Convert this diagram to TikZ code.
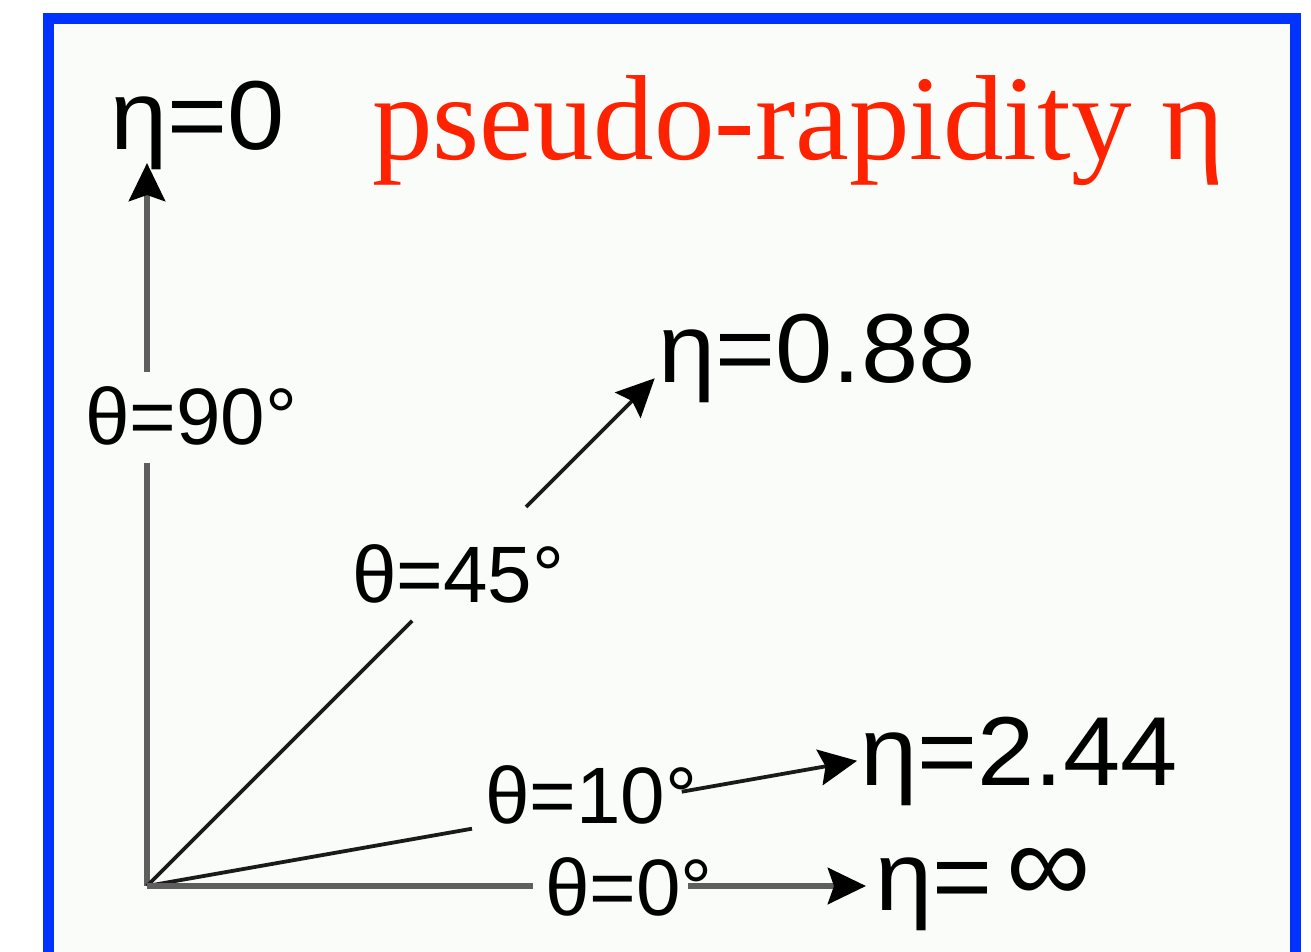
\documentclass[tikz,border=0pt]{standalone}
\usepackage{fontspec}
\setmainfont{Liberation Serif}
\newfontfamily\labfont{Liberation Sans}
\newfontfamily\etafont[FakeStretch=1.05]{Liberation Sans}
\usetikzlibrary{arrows.meta,calc}
\definecolor{bordblue}{HTML}{0033FF}
\definecolor{titred}{HTML}{FF2200}
\definecolor{bgpaper}{HTML}{FAFCFA}
\definecolor{axgray}{HTML}{5E5E5E}
\definecolor{raydark}{HTML}{1A1A1A}
\tikzset{
  thetalab/.style={anchor=base west,inner sep=0pt,font=\labfont\fontsize{80}{82}\selectfont,text=black},
  etalab/.style={anchor=base west,inner sep=0pt,font=\etafont\fontsize{98}{100}\selectfont,text=black},
  graysegment/.style={draw=axgray,line width=6.5pt},
  darksegment/.style={draw=raydark,line width=3.8pt},
  tiphead/.style={-{Stealth[length=38pt,width=36pt,inset=6pt,color=black]}},
}
\begin{document}
\begin{tikzpicture}[x=1pt,y=1pt]
\useasboundingbox (0,0) rectangle (1311,951);
\clip (0,0) rectangle (1311,951);
\fill[white] (0,0) rectangle (1311,951);
\fill[bgpaper] (48,-20) rectangle (1295.5,932.5);
\draw[bordblue,line width=11pt] (48,-20) -- (48,932.5) -- (1295.5,932.5) -- (1295.5,-20);

% title
\node[anchor=base west,inner sep=0pt,text=titred,font=\fontsize{121}{123}\selectfont] (title) at (372,791) {pseudo-rapidity η};

% origin and ray points
\coordinate (O) at (147,65);
\coordinate (v1) at ($(O)+(90:423)$);
\coordinate (v2) at ($(O)+(90:514)$);
\coordinate (v3) at ($(O)+(90:723)$);
\coordinate (d1) at ($(O)+(45:375)$);
\coordinate (d2) at ($(O)+(45:536)$);
\coordinate (d3) at ($(O)+(45:718)$);
\coordinate (t1) at ($(O)+(10:330)$);
\coordinate (t2) at ($(O)+(10:543)$);
\coordinate (t3) at ($(O)+(10:721)$);
\coordinate (z1) at ($(O)+(0:386)$);
\coordinate (z2) at ($(O)+(0:541)$);
\coordinate (z3) at ($(O)+(0:719)$);

% labels
\node[thetalab] (th90) at (85,506) {θ=90°};
\node[thetalab] (th45) at (352,348) {θ=45°};
\node[thetalab] (th10) at (485,128) {θ=10°};
\node[thetalab] (th0) at (545,36) {θ=0°};
\node[etalab] (eta0) at (110,801) {η=0};
\node[etalab] (eta088) at (658,568) {η=0.88};
\node[etalab] (eta244) at (860,166) {η=2.44};
\node[etalab] (etainf) at (875,41) {η=\hspace{14pt}\raisebox{8pt}{\scalebox{1.15}{∞}}};

% rays
\draw[graysegment] (O) -- (v1);
\draw[graysegment,tiphead] (v2) -- (v3);
\draw[darksegment] (O) -- (d1);
\draw[darksegment,tiphead] (d2) -- (d3);
\draw[darksegment] (O) -- (t1);
\draw[darksegment,tiphead] (t2) -- (t3);
\draw[graysegment] (O) -- (z1);
\draw[graysegment,tiphead] (z2) -- (z3);
\end{tikzpicture}
\end{document}
